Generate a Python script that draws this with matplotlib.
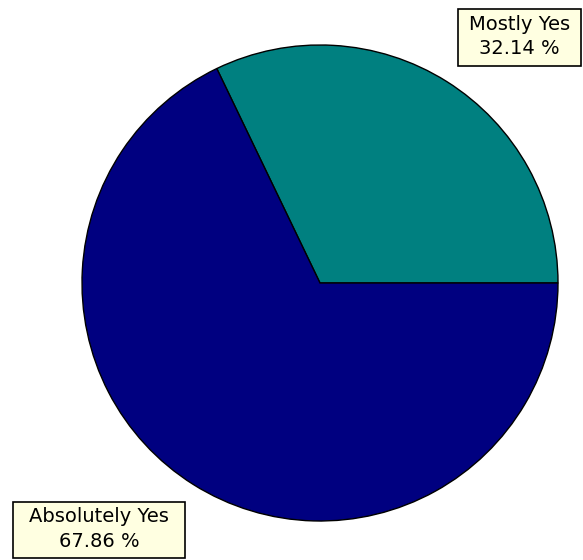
import matplotlib
matplotlib.use("Agg")
import matplotlib.pyplot as plt
from matplotlib.patches import Rectangle

labels = ["Mostly Yes", "Absolutely Yes"]
shares = [32.14, 67.86]
colors = ["#008080", "#000080"]

W, H = 583, 560
fig = plt.figure(figsize=(W / 100, H / 100), dpi=100)
ax = fig.add_axes([0, 0, 1, 1])

ax.pie(shares, colors=colors, startangle=0, counterclock=True,
       center=(320, H - 283), radius=238,
       wedgeprops=dict(edgecolor="black", linewidth=1))
ax.set_xlim(0, W)
ax.set_ylim(0, H)
ax.set_aspect("equal")
ax.axis("off")

# label boxes: (left, top, right, bottom) in pixel coords from top-left
boxes = [(458, 9, 581, 66), (13, 502, 185, 558)]
for name, pct, (l, t, r, b) in zip(labels, shares, boxes):
    ax.add_patch(Rectangle((l, H - b), r - l, b - t, facecolor="#ffffe1",
                           edgecolor="black", linewidth=1.2, zorder=5))
    ax.text((l + r) / 2, H - (t + b) / 2 + 1, f"{name}\n{pct:.2f} %",
            ha="center", va="center", fontsize=14, family="DejaVu Sans",
            linespacing=1.4, zorder=6)

fig.savefig("out.png", dpi=100)
